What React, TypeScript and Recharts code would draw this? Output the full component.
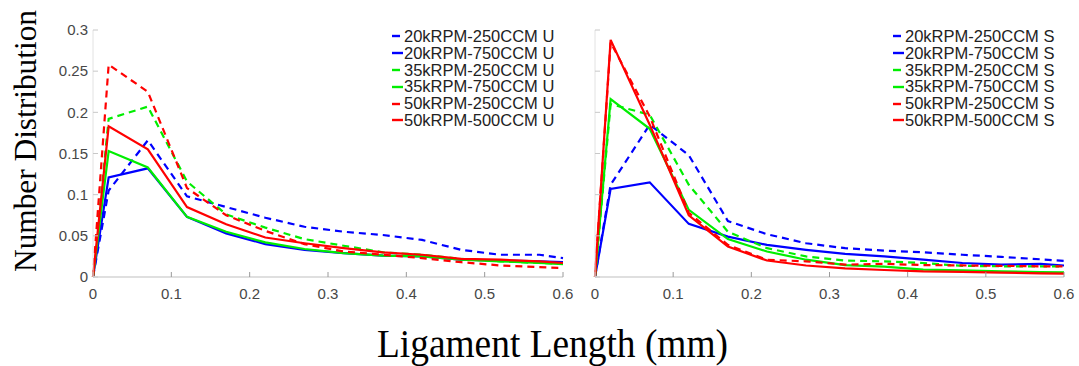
import React from "react";
import { LineChart, Line, XAxis, YAxis, Legend } from "recharts";

const xValues = [0, 0.02, 0.07, 0.12, 0.17, 0.22, 0.27, 0.32, 0.37, 0.42, 0.47, 0.52, 0.57, 0.6];
const xTicks = [0, 0.1, 0.2, 0.3, 0.4, 0.5, 0.6];
const yTicks = [0, 0.05, 0.1, 0.15, 0.2, 0.25, 0.3];

const seriesNamesU = [
  "20kRPM-250CCM U",
  "20kRPM-750CCM U",
  "35kRPM-250CCM U",
  "35kRPM-750CCM U",
  "50kRPM-250CCM U",
  "50kRPM-500CCM U",
];
const seriesNamesS = [
  "20kRPM-250CCM S",
  "20kRPM-750CCM S",
  "35kRPM-250CCM S",
  "35kRPM-750CCM S",
  "50kRPM-250CCM S",
  "50kRPM-500CCM S",
];
const seriesColors = ["#0000ff", "#0000ff", "#00ee00", "#00ee00", "#ff0000", "#ff0000"];
const seriesDashed = [true, false, true, false, true, false];

// Left panel (U)
const u20k250 = [0, 0.105, 0.166, 0.098, 0.085, 0.072, 0.061, 0.055, 0.051, 0.045, 0.033, 0.027, 0.027, 0.023];
const u20k750 = [0, 0.121, 0.132, 0.073, 0.053, 0.04, 0.033, 0.029, 0.026, 0.025, 0.021, 0.02, 0.019, 0.018];
const u35k250 = [0, 0.192, 0.207, 0.116, 0.076, 0.06, 0.046, 0.038, 0.03, 0.027, 0.022, 0.019, 0.017, 0.016];
const u35k750 = [0, 0.153, 0.133, 0.073, 0.055, 0.042, 0.034, 0.029, 0.026, 0.025, 0.021, 0.019, 0.017, 0.0155];
const u50k250 = [0, 0.258, 0.225, 0.108, 0.075, 0.056, 0.04, 0.031, 0.027, 0.023, 0.018, 0.014, 0.012, 0.011];
const u50k500 = [0, 0.183, 0.155, 0.085, 0.064, 0.048, 0.041, 0.035, 0.03, 0.027, 0.022, 0.021, 0.019, 0.017];

// Right panel (S)
const s20k250 = [0, 0.112, 0.185, 0.148, 0.068, 0.052, 0.041, 0.035, 0.032, 0.03, 0.027, 0.0245, 0.0215, 0.0195];
const s20k750 = [0, 0.107, 0.115, 0.0645, 0.049, 0.039, 0.033, 0.028, 0.025, 0.021, 0.017, 0.015, 0.016, 0.014];
const s35k250 = [0, 0.21, 0.197, 0.112, 0.055, 0.035, 0.025, 0.02, 0.019, 0.017, 0.0135, 0.013, 0.013, 0.013];
const s35k750 = [0, 0.216, 0.18, 0.0815, 0.046, 0.031, 0.021, 0.0145, 0.0125, 0.009, 0.008, 0.007, 0.006, 0.0055];
const s50k250 = [0, 0.285, 0.195, 0.078, 0.039, 0.021, 0.019, 0.015, 0.016, 0.0145, 0.014, 0.0135, 0.013, 0.013];
const s50k500 = [0, 0.288, 0.185, 0.075, 0.037, 0.02, 0.014, 0.0105, 0.0085, 0.0068, 0.0062, 0.0053, 0.0045, 0.004];

const uSeries = [u20k250, u20k750, u35k250, u35k750, u50k250, u50k500];
const sSeries = [s20k250, s20k750, s35k250, s35k750, s50k250, s50k500];

function buildRows(series: number[][]) {
  return xValues.map((x, i) => {
    const row: Record<string, number> = { x };
    series.forEach((s, k) => {
      row["s" + k] = s[i];
    });
    return row;
  });
}

const dataU = buildRows(uSeries);
const dataS = buildRows(sSeries);

const tickStyle = { fontFamily: "'Liberation Sans', Arial, sans-serif", fontSize: 15, fill: "#474747" };

function makeLegend(names: string[]) {
  return () => (
    <div style={{ fontFamily: "'Liberation Sans', Arial, sans-serif", fontSize: 16.5, color: "#222" }}>
      {names.map((n, k) => (
        <div key={n} style={{ display: "flex", alignItems: "center", height: 16.8, whiteSpace: "nowrap" }}>
          <svg width={12} height={6} style={{ display: "block" }}>
            <line x1={0} y1={3} x2={seriesDashed[k] ? 8 : 11} y2={3} stroke={seriesColors[k]} strokeWidth={2.4} />
          </svg>
          <span style={{ lineHeight: "16.8px" }}>{n}</span>
        </div>
      ))}
    </div>
  );
}

const emptyTick = () => <g />;

function Panel(props: {
  data: Record<string, number>[];
  names: string[];
  width: number;
  marginLeft: number;
  yWidth: number;
  marginRight: number;
  showYLabels: boolean;
  legendLeft: number;
}) {
  const { data, names, width, marginLeft, yWidth, marginRight, showYLabels, legendLeft } = props;
  return (
    <LineChart
      width={width}
      height={366}
      data={data}
      margin={{ top: 30, right: marginRight, bottom: 59, left: marginLeft }}
    >
      <XAxis
        dataKey="x"
        type="number"
        domain={[0, 0.6]}
        ticks={xTicks}
        tickFormatter={(v: number) => String(v)}
        tick={tickStyle}
        tickSize={-5}
        tickMargin={16}
        height={30}
        axisLine={{ stroke: "#d4d4d4", strokeWidth: 1.5 }}
        tickLine={{ stroke: "#9a9a9a" }}
        interval={0}
      />
      <YAxis
        type="number"
        domain={[0, 0.3]}
        ticks={yTicks}
        tickFormatter={(v: number) => String(v)}
        tick={showYLabels ? tickStyle : emptyTick}
        tickSize={-5}
        tickMargin={10}
        width={yWidth}
        axisLine={{ stroke: "#e2e2e2" }}
        tickLine={{ stroke: "#c8c8c8" }}
        interval={0}
      />
      <Legend
        layout="vertical"
        align="center"
        verticalAlign="middle"
        content={makeLegend(names)}
        wrapperStyle={{ top: 28, left: legendLeft, width: "auto" }}
      />
      {names.map((n, k) => (
        <Line
          key={n}
          name={n}
          dataKey={"s" + k}
          type="linear"
          stroke={seriesColors[k]}
          strokeWidth={2.2}
          strokeDasharray={seriesDashed[k] ? "7 5" : undefined}
          dot={false}
          activeDot={false}
          isAnimationActive={false}
        />
      ))}
    </LineChart>
  );
}

export default function App() {
  return (
    <div style={{ position: "absolute", left: 0, top: 0, width: 1079, height: 366, background: "#fff", overflow: "hidden" }}>
      <div style={{ position: "absolute", left: 0, top: 0 }}>
        <Panel data={dataU} names={seriesNamesU} width={575} marginLeft={33} yWidth={60} marginRight={12} showYLabels={true} legendLeft={392} />
      </div>
      <div style={{ position: "absolute", left: 575, top: 0 }}>
        <Panel data={dataS} names={seriesNamesS} width={504} marginLeft={10} yWidth={10} marginRight={15} showYLabels={false} legendLeft={318} />
      </div>
      <svg width={1079} height={366} style={{ position: "absolute", left: 0, top: 0, pointerEvents: "none" }}>
        <text
          x={36}
          y={141}
          transform="rotate(-90, 36, 141)"
          textAnchor="middle"
          fontFamily="'Liberation Serif', 'Times New Roman', serif"
          fontSize={32}
          textLength={262}
          lengthAdjust="spacingAndGlyphs"
          fill="#000"
        >
          Number Distribution
        </text>
        <text
          x={552.5}
          y={357}
          textAnchor="middle"
          fontFamily="'Liberation Serif', 'Times New Roman', serif"
          fontSize={40}
          textLength={351}
          lengthAdjust="spacingAndGlyphs"
          fill="#000"
        >
          Ligament Length (mm)
        </text>
      </svg>
    </div>
  );
}
